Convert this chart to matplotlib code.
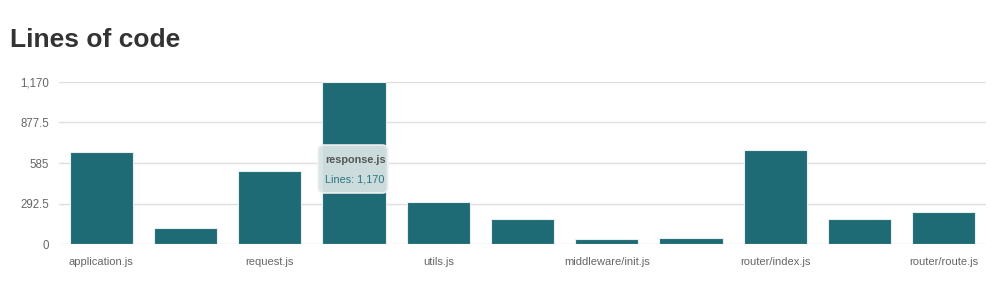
import matplotlib
matplotlib.use("Agg")
import matplotlib.pyplot as plt
from matplotlib.patches import FancyBboxPatch

files = ["application.js", "express.js", "request.js", "response.js", "utils.js",
         "view.js", "middleware/init.js", "middleware/query.js", "router/index.js",
         "router/layer.js", "router/route.js"]
lines = [661, 116, 527, 1170, 303, 181, 40, 44, 676, 181, 231]
yticks = [0, 292.5, 585, 877.5, 1170]
ytick_labels = ["0", "292.5", "585", "877.5", "1,170"]

plt.rcParams['font.family'] = ['Liberation Sans', 'DejaVu Sans']

fig = plt.figure(figsize=(10, 2.98), dpi=100)
ax = fig.add_axes([0.059, 0.181, 0.927, 0.544])

x = list(range(len(files)))
ax.bar(x, lines, width=0.75, color="#1f6b75", edgecolor="#e8eeee", linewidth=0.8, zorder=3)

ax.set_xlim(-0.5, len(files) - 0.5)
ax.set_ylim(0, 1170)
ax.set_yticks(yticks)
ax.set_yticklabels(ytick_labels, color="#666666", fontsize=8.3)
ax.set_xticks(x)
ax.set_xticklabels([f if i % 2 == 0 else "" for i, f in enumerate(files)],
                   color="#666666", fontsize=8)
ax.tick_params(axis='both', length=0, pad=9)
ax.tick_params(axis='y', pad=7)
ax.grid(axis='y', color="#e0e0e0", linewidth=1, zorder=0)
for s in ax.spines.values():
    s.set_visible(False)

fig.text(0.01, 0.865, "Lines of code", fontsize=19, fontweight='bold', color="#333333",
         va='center', ha='left')

# tooltip over response.js
box = FancyBboxPatch((0.318, 1 - 193 / 298), 0.070, 48 / 298,
                     boxstyle="round,pad=0,rounding_size=0.006",
                     transform=fig.transFigure, facecolor="#d6e3e4",
                     edgecolor="#f2f2f2", linewidth=1.2, alpha=0.95, zorder=10,
                     mutation_aspect=3.3)
fig.add_artist(box)
fig.text(0.325, 1 - 160 / 298, "response.js", fontsize=7.8, fontweight='bold',
         color="#555555", va='center', ha='left', zorder=11)
fig.text(0.325, 1 - 179 / 298, "Lines: 1,170", fontsize=7.8,
         color="#2a7480", va='center', ha='left', zorder=11)

fig.savefig("out.png", dpi=100)
